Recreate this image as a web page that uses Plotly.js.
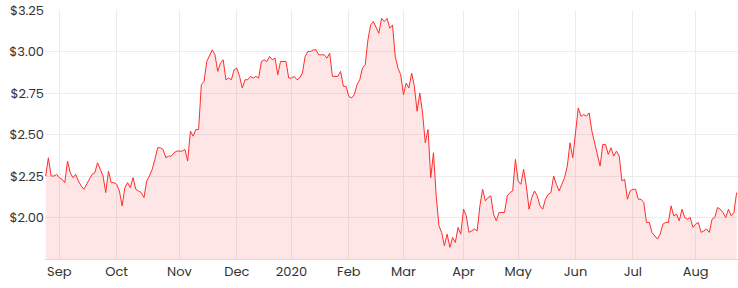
<!DOCTYPE html>
<html>
<head>
<meta charset="utf-8">
<script src="https://cdn.plot.ly/plotly-3.0.1.min.js"></script>
<style>html,body{margin:0;padding:0;background:#fff;}#chart{width:738px;height:288px;}</style>
</head>
<body>
<div id="chart"></div>
<script>
// Share price, ASX trading days from 2019-08-26 to 2020-08-24
const startDate = '2019-08-26';
const endDate = '2020-08-24';
const holidays = ['2019-12-25','2019-12-26','2020-01-01','2020-01-27','2020-04-10','2020-04-13','2020-06-08'];

const prices = [
  2.25,2.36,2.25,2.25,2.26,2.24,2.23,2.21,2.34,2.27,
  2.24,2.26,2.22,2.19,2.17,2.20,2.23,2.26,2.27,2.33,
  2.29,2.25,2.15,2.28,2.21,2.21,2.20,2.16,2.07,2.18,
  2.21,2.18,2.24,2.17,2.16,2.15,2.12,2.22,2.25,2.29,
  2.35,2.42,2.42,2.41,2.36,2.37,2.37,2.39,2.40,2.40,
  2.40,2.41,2.34,2.52,2.49,2.53,2.53,2.80,2.82,2.94,
  2.98,3.01,2.98,2.88,2.93,2.95,2.83,2.84,2.83,2.89,
  2.90,2.85,2.78,2.83,2.83,2.85,2.84,2.85,2.84,2.94,
  2.95,2.94,2.97,2.95,2.96,2.86,2.94,2.94,2.94,2.84,
  2.84,2.85,2.83,2.84,2.87,2.97,3.00,3.00,3.01,3.01,
  2.98,2.98,2.98,2.96,2.99,2.85,2.85,2.85,2.88,2.79,
  2.79,2.73,2.72,2.74,2.80,2.83,2.90,2.92,3.07,3.16,
  3.18,3.14,3.11,3.20,3.18,3.20,3.14,3.16,2.97,2.90,
  2.86,2.74,2.81,2.78,2.87,2.79,2.64,2.75,2.63,2.45,
  2.53,2.24,2.39,2.13,1.95,1.91,1.83,1.90,1.82,1.88,
  1.85,1.94,1.90,2.05,2.01,1.91,1.92,1.93,1.92,2.07,
  2.17,2.10,2.12,2.13,2.02,1.98,2.03,2.03,2.03,2.13,
  2.15,2.16,2.35,2.22,2.20,2.29,2.19,2.05,2.12,2.16,
  2.13,2.07,2.05,2.11,2.14,2.15,2.25,2.20,2.16,2.20,
  2.24,2.31,2.45,2.36,2.53,2.66,2.61,2.62,2.61,2.63,
  2.52,2.45,2.37,2.31,2.44,2.44,2.38,2.42,2.37,2.40,
  2.37,2.22,2.23,2.11,2.16,2.17,2.17,2.11,2.11,2.09,
  1.97,1.97,1.91,1.89,1.87,1.90,1.96,1.97,1.97,2.07,
  2.01,2.02,1.98,2.05,2.00,1.99,2.00,1.94,1.96,1.97,
  1.91,1.92,1.93,1.91,1.99,2.00,2.06,2.05,2.03,2.00,
  2.05,2.01,2.03,2.15
];

const tickDates = ['2019-09-02','2019-10-01','2019-11-01','2019-12-02','2020-01-02','2020-02-03','2020-03-02','2020-04-01','2020-05-01','2020-06-01','2020-07-01','2020-08-03'];
const tickLabels = ['Sep','Oct','Nov','Dec','2020','Feb','Mar','Apr','May','Jun','Jul','Aug'];
const yTicks = [2.00,2.25,2.50,2.75,3.00,3.25];
const yTickLabels = ['$2.00','$2.25','$2.50','$2.75','$3.00','$3.25'];

// build the list of trading days (weekdays minus exchange holidays)
function tradingDays(s, e, hol) {
  const out = [];
  const d = new Date(s + 'T00:00:00Z');
  const end = new Date(e + 'T00:00:00Z');
  while (d <= end) {
    const wd = d.getUTCDay();
    const iso = d.toISOString().slice(0, 10);
    if (wd !== 0 && wd !== 6 && hol.indexOf(iso) < 0) out.push(iso);
    d.setUTCDate(d.getUTCDate() + 1);
  }
  return out;
}
const dates = tradingDays(startDate, endDate, holidays);

const trace = {
  x: dates,
  y: prices,
  type: 'scatter',
  mode: 'lines',
  line: {color: 'rgb(255,45,45)', width: 1},
  fill: 'tozeroy',
  fillcolor: 'rgba(255,60,60,0.13)',
  hoverinfo: 'skip'
};

const font = {family: 'Poppins, Inter, "Open Sans", sans-serif', size: 13, color: '#333'};

const layout = {
  width: 738, height: 288,
  margin: {l: 45, r: 0, t: 10, b: 29, pad: 0},
  paper_bgcolor: '#fff', plot_bgcolor: '#fff',
  showlegend: false,
  font: font,
  xaxis: {
    type: 'category',
    range: [-0.24, 253.5],
    tickvals: tickDates,
    ticktext: tickLabels,
    showgrid: true, gridcolor: '#ececec', gridwidth: 1,
    showline: true, linecolor: '#e2d6d6', linewidth: 1,
    ticks: '', zeroline: false,
    tickfont: font, fixedrange: true
  },
  yaxis: {
    range: [1.75, 3.25],
    tickmode: 'array',
    tickvals: yTicks,
    ticktext: yTickLabels,
    showgrid: true, gridcolor: '#ececec', gridwidth: 1,
    showline: false, zeroline: false, ticks: '',
    tickfont: font, fixedrange: true
  }
};

Plotly.newPlot('chart', [trace], layout, {displayModeBar: false, staticPlot: true});
</script>
</body>
</html>
